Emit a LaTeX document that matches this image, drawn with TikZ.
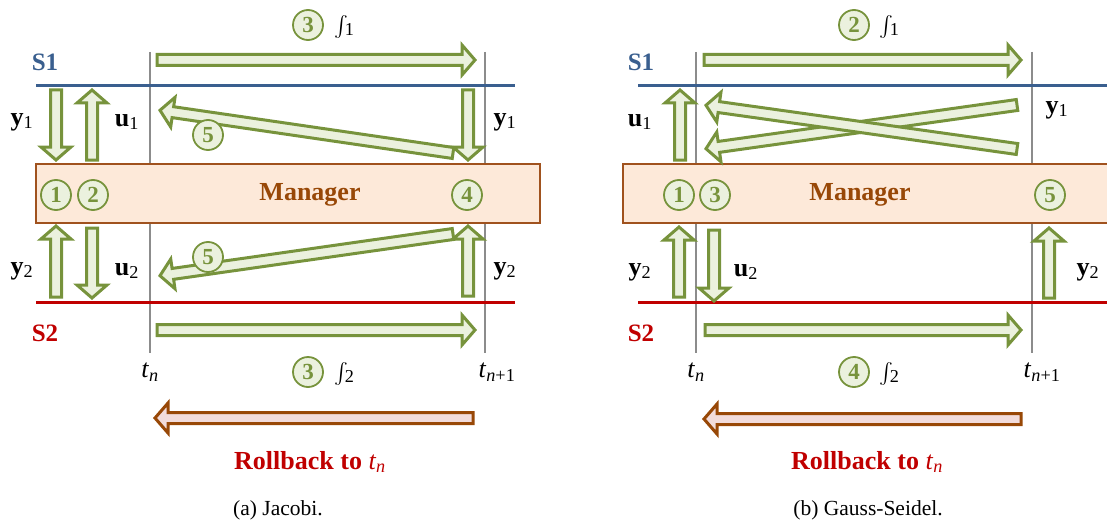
\documentclass[tikz,border=0pt]{standalone}
\usepackage{exscale}
\usepackage{fontspec}
\setmainfont{Liberation Serif}
\usetikzlibrary{calc}

\definecolor{sblue}{HTML}{3A5F8F}
\definecolor{sred}{HTML}{C00000}
\definecolor{agreen}{HTML}{77933C}
\definecolor{afill}{HTML}{EBF1DE}
\definecolor{mfill}{HTML}{FDE9D9}
\definecolor{mdraw}{HTML}{A0521E}
\definecolor{mtext}{HTML}{984807}
\definecolor{rdraw}{HTML}{984807}
\definecolor{rfill}{HTML}{F2DCDB}
\definecolor{gline}{HTML}{8C8C8C}

% block arrow from coordinate #2 to coordinate #3, drawn with style #1
\newcommand\fatarrow[3]{%
  \draw[#1] let \p1=($(#3)-(#2)$), \n1={veclen(\x1,\y1)}, \n2={atan2(\y1,\x1)} in
    [shift={(#2)}, rotate=\n2]
    (0,-5.5) -- ({\n1-15},-5.5) -- ({\n1-15},-15) -- ({\n1-2},0)
    -- ({\n1-15},15) -- ({\n1-15},5.5) -- (0,5.5) -- cycle;}

\newcommand\bigfont{\fontsize{26}{30}\selectfont}
\newcommand\vlab[2]{\textbf{#1}\textsubscript{#2}}
\newcommand\tlab[1]{\textit{t}\textsubscript{#1}}
\newcommand\integ[1]{{\fontsize{22}{22}\selectfont$\int$}\kern-0.12em\textsubscript{#1}}

\tikzset{
  greenarrow/.style={draw=agreen, fill=afill, line width=3pt, line join=miter},
  rollarrow/.style={draw=rdraw, fill=rfill, line width=3pt, line join=miter},
  timeline/.style={draw=gline, line width=1.3pt},
  s1line/.style={draw=sblue, line width=3pt},
  s2line/.style={draw=sred, line width=3pt},
  mgr/.style={draw=mdraw, fill=mfill, line width=1.3pt, inner sep=0pt,
    minimum height=59pt},
  mgrtext/.style={text=mtext, font=\bigfont\bfseries, inner sep=0pt},
  cnum/.style={circle, draw=agreen, fill=afill, line width=1.8pt, text=agreen,
    font=\fontsize{23}{23}\selectfont\bfseries, minimum size=30pt, inner sep=0pt},
  lab/.style={font=\bigfont, inner sep=0pt},
  intlab/.style={font=\bigfont, inner sep=0pt, anchor=base west},
  sname/.style={font=\fontsize{25}{28}\selectfont\bfseries, inner sep=0pt},
  rolltext/.style={text=sred, font=\bigfont\bfseries, inner sep=0pt},
  caption/.style={font=\fontsize{21.5}{24}\selectfont, inner sep=0pt},
}

\begin{document}
\begin{tikzpicture}[x=1pt, y=-1pt]
\useasboundingbox (0,0) rectangle (1107,524);
\clip (0,0) rectangle (1107,524);

% ---------------- (a) Jacobi ----------------
\coordinate (a-tn-top) at (150,52);   \coordinate (a-tn-bot) at (150,353);
\coordinate (a-tm-top) at (485,52);   \coordinate (a-tm-bot) at (485,353);
\coordinate (a-s1-l) at (36,86);      \coordinate (a-s1-r) at (515,86);
\coordinate (a-s2-l) at (36,302);     \coordinate (a-s2-r) at (515,302);
\draw[timeline] (a-tn-top) -- (a-tn-bot);
\draw[timeline] (a-tm-top) -- (a-tm-bot);
\draw[s1line] (a-s1-l) -- (a-s1-r);
\draw[s2line] (a-s2-l) -- (a-s2-r);

\node[mgr, minimum width=504pt] (a-mgr) at (288,193.5) {};
\node[mgrtext] (a-mgrtxt) at (310,195) {Manager};

\coordinate (a-i1-s) at (157,60);  \coordinate (a-i1-e) at (477,60);
\coordinate (a-y1l-s) at (56,90);  \coordinate (a-y1l-e) at (56,162);
\coordinate (a-u1-s) at (92,160);  \coordinate (a-u1-e) at (92,88);
\coordinate (a-f1-s) at (453,153); \coordinate (a-f1-e) at (158,110);
\coordinate (a-y1r-s) at (468,90); \coordinate (a-y1r-e) at (468,162);
\coordinate (a-y2l-s) at (56,297); \coordinate (a-y2l-e) at (56,224);
\coordinate (a-u2-s) at (92,228);  \coordinate (a-u2-e) at (92,300);
\coordinate (a-f2-s) at (453,234); \coordinate (a-f2-e) at (158,276);
\coordinate (a-y2r-s) at (468,296); \coordinate (a-y2r-e) at (468,224);
\coordinate (a-i2-s) at (157,330); \coordinate (a-i2-e) at (477,330);
\coordinate (a-rb-s) at (473,418); \coordinate (a-rb-e) at (153,418);

\fatarrow{greenarrow}{a-i1-s}{a-i1-e}
\fatarrow{greenarrow}{a-y1l-s}{a-y1l-e}
\fatarrow{greenarrow}{a-u1-s}{a-u1-e}
\fatarrow{greenarrow}{a-f1-s}{a-f1-e}
\fatarrow{greenarrow}{a-y1r-s}{a-y1r-e}
\fatarrow{greenarrow}{a-y2l-s}{a-y2l-e}
\fatarrow{greenarrow}{a-u2-s}{a-u2-e}
\fatarrow{greenarrow}{a-f2-s}{a-f2-e}
\fatarrow{greenarrow}{a-y2r-s}{a-y2r-e}
\fatarrow{greenarrow}{a-i2-s}{a-i2-e}
\fatarrow{rollarrow}{a-rb-s}{a-rb-e}

\node[cnum] (a-c1) at (56,195) {1};
\node[cnum] (a-c2) at (93,195) {2};
\node[cnum] (a-c4) at (467,195) {4};
\node[cnum] (a-c3t) at (308,25) {3};
\node[cnum] (a-c3b) at (308,372) {3};
\node[cnum] (a-c5t) at (208,135) {5};
\node[cnum] (a-c5b) at (208,257) {5};

\node[intlab] (a-int1) at (334,32) {\integ{1}};
\node[intlab] (a-int2) at (334,379) {\integ{2}};
\node[sname, text=sblue] (a-S1) at (45,62) {S1};
\node[sname, text=sred] (a-S2) at (45,333) {S2};
\node[lab] (a-y1l) at (22,122) {\vlab{y}{1}};
\node[lab] (a-u1) at (127,122) {\vlab{u}{1}};
\node[lab] (a-y1r) at (505,122) {\vlab{y}{1}};
\node[lab] (a-y2l) at (22,271) {\vlab{y}{2}};
\node[lab] (a-u2) at (127,271) {\vlab{u}{2}};
\node[lab] (a-y2r) at (505,271) {\vlab{y}{2}};
\node[lab] (a-tn) at (150,372) {\tlab{\textit{n}}};
\node[lab] (a-tm) at (497,372) {\tlab{\textit{n}+1}};
\node[rolltext] (a-rb) at (310,462) {Rollback to \textmd{\tlab{\textit{n}}}};
\node[caption] (a-cap) at (278,510) {(a) Jacobi.};

% ---------------- (b) Gauss-Seidel ----------------
\coordinate (b-tn-top) at (696,52);   \coordinate (b-tn-bot) at (696,353);
\coordinate (b-tm-top) at (1032,52);  \coordinate (b-tm-bot) at (1032,353);
\coordinate (b-s1-l) at (638,86);     \coordinate (b-s1-r) at (1110,86);
\coordinate (b-s2-l) at (638,302);    \coordinate (b-s2-r) at (1110,302);
\draw[timeline] (b-tn-top) -- (b-tn-bot);
\draw[timeline] (b-tm-top) -- (b-tm-bot);
\draw[s1line] (b-s1-l) -- (b-s1-r);
\draw[s2line] (b-s2-l) -- (b-s2-r);

\node[mgr, minimum width=497pt] (b-mgr) at (871.5,193.5) {};
\node[mgrtext] (b-mgrtxt) at (860,195) {Manager};

\coordinate (b-i1-s) at (704,60);   \coordinate (b-i1-e) at (1023,60);
\coordinate (b-u1-s) at (680,160);  \coordinate (b-u1-e) at (680,88);
\coordinate (b-x1-s) at (1017,105); \coordinate (b-x1-e) at (704,149);
\coordinate (b-x2-s) at (1017,149); \coordinate (b-x2-e) at (704,105);
\coordinate (b-y2l-s) at (679,297); \coordinate (b-y2l-e) at (679,225);
\coordinate (b-u2-s) at (714,230);  \coordinate (b-u2-e) at (714,303);
\coordinate (b-y2r-s) at (1049,298); \coordinate (b-y2r-e) at (1049,226);
\coordinate (b-i2-s) at (705,330);  \coordinate (b-i2-e) at (1023,330);
\coordinate (b-rb-s) at (1021,419); \coordinate (b-rb-e) at (702,419);

\fatarrow{greenarrow}{b-i1-s}{b-i1-e}
\fatarrow{greenarrow}{b-u1-s}{b-u1-e}
\fatarrow{greenarrow}{b-x1-s}{b-x1-e}
\fatarrow{greenarrow}{b-x2-s}{b-x2-e}
\fatarrow{greenarrow}{b-y2l-s}{b-y2l-e}
\fatarrow{greenarrow}{b-u2-s}{b-u2-e}
\fatarrow{greenarrow}{b-y2r-s}{b-y2r-e}
\fatarrow{greenarrow}{b-i2-s}{b-i2-e}
\fatarrow{rollarrow}{b-rb-s}{b-rb-e}

\node[cnum] (b-c1) at (679,195) {1};
\node[cnum] (b-c3) at (715,195) {3};
\node[cnum] (b-c5) at (1050,195) {5};
\node[cnum] (b-c2) at (854,25) {2};
\node[cnum] (b-c4) at (854,372) {4};

\node[intlab] (b-int1) at (879,32) {\integ{1}};
\node[intlab] (b-int2) at (879,379) {\integ{2}};
\node[sname, text=sblue] (b-S1) at (641,62) {S1};
\node[sname, text=sred] (b-S2) at (641,333) {S2};
\node[lab] (b-u1) at (640,122) {\vlab{u}{1}};
\node[lab] (b-y1) at (1057,110) {\vlab{y}{1}};
\node[lab] (b-y2l) at (640,272) {\vlab{y}{2}};
\node[lab] (b-u2) at (746,272) {\vlab{u}{2}};
\node[lab] (b-y2r) at (1088,272) {\vlab{y}{2}};
\node[lab] (b-tn) at (696,372) {\tlab{\textit{n}}};
\node[lab] (b-tm) at (1042,372) {\tlab{\textit{n}+1}};
\node[rolltext] (b-rb) at (867,462) {Rollback to \textmd{\tlab{\textit{n}}}};
\node[caption] (b-cap) at (868,510) {(b) Gauss-Seidel.};
\end{tikzpicture}
\end{document}
